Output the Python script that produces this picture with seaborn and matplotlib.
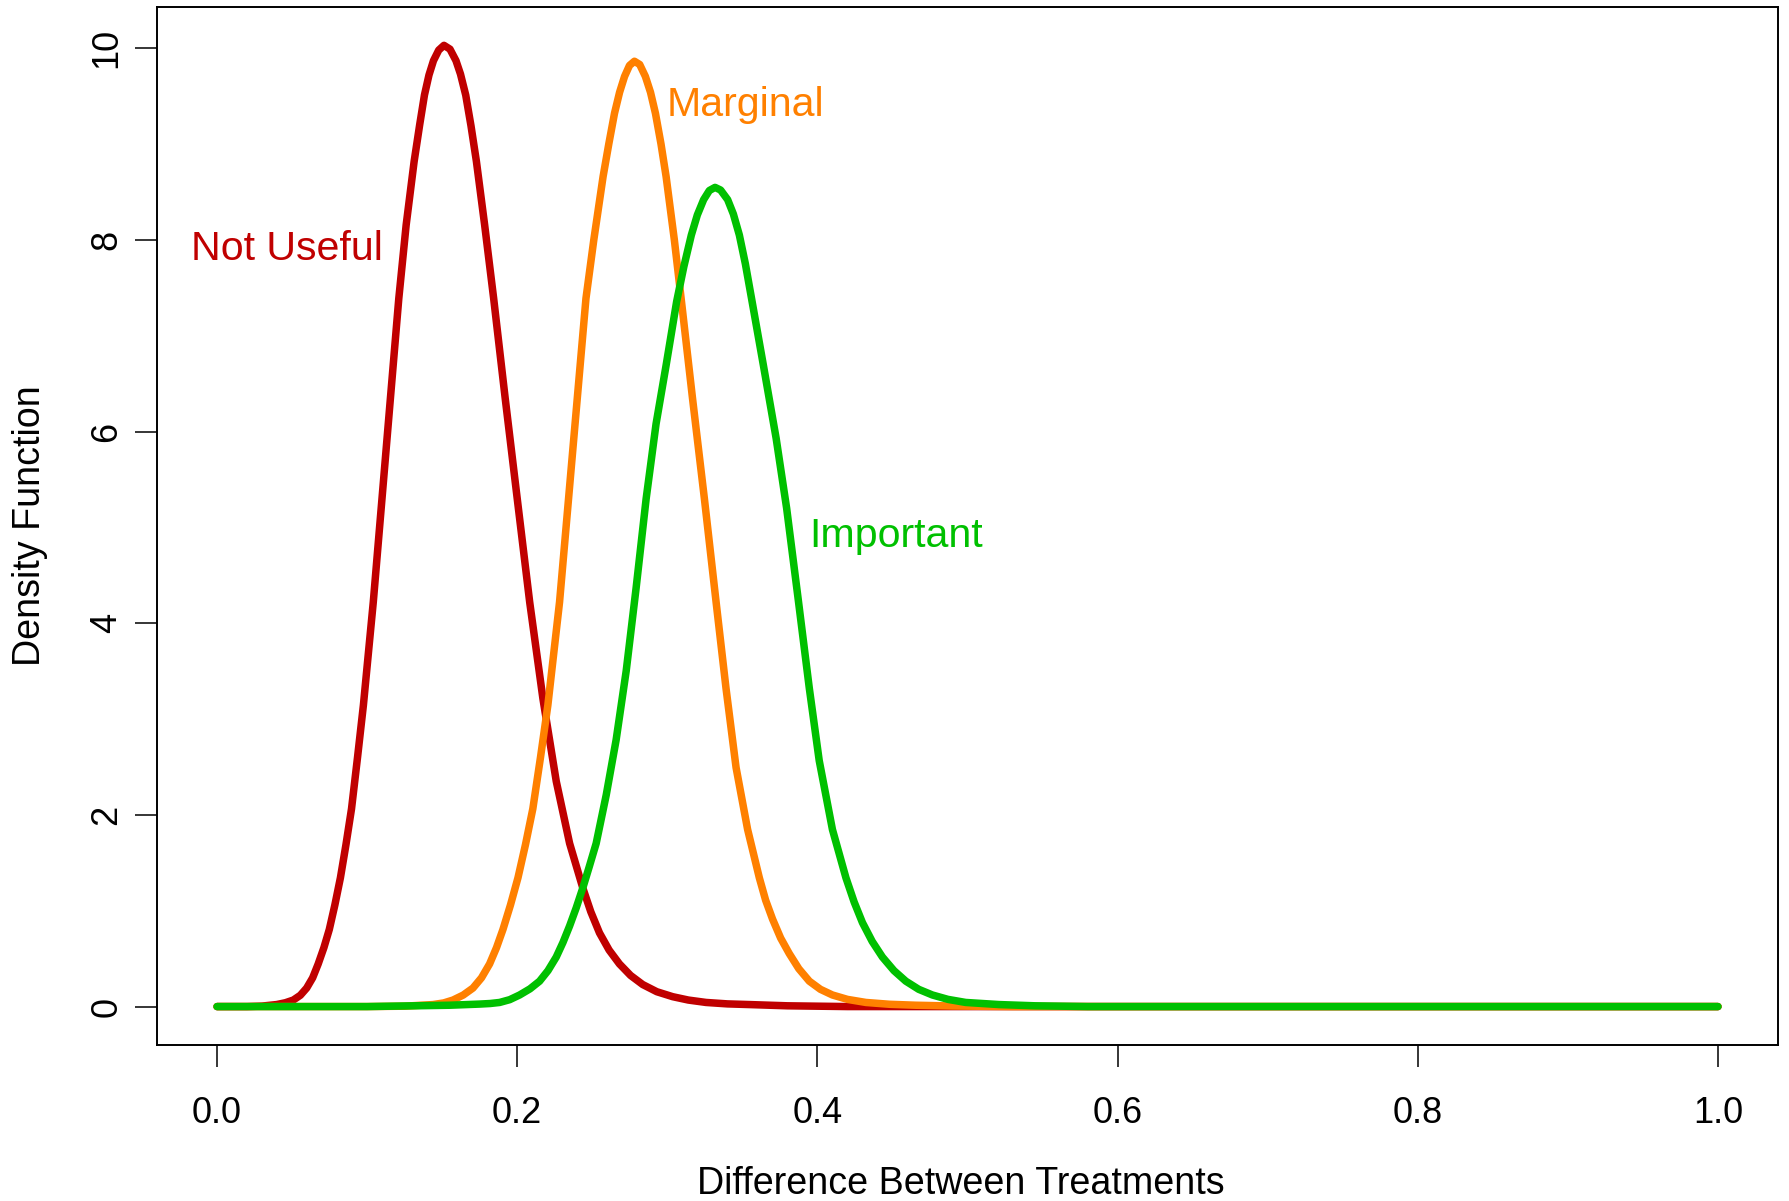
import matplotlib
matplotlib.use("Agg")
import matplotlib.pyplot as plt
import seaborn as sns

# Density curves for the difference between treatments (values read per curve)
not_useful_x = [0.0, 0.020, 0.030, 0.0397, 0.0455, 0.0508, 0.0555, 0.0597, 0.0637, 0.0674,
                0.0712, 0.0748, 0.0785, 0.0822, 0.0859, 0.0896, 0.0936, 0.0975, 0.1041,
                0.1099, 0.1155, 0.1211, 0.1260, 0.1313, 0.1350, 0.1382, 0.1412, 0.1442,
                0.1477, 0.1512, 0.1552, 0.1592, 0.1622, 0.1657, 0.1692, 0.1728, 0.1783,
                0.1843, 0.1920, 0.2000, 0.2083, 0.2171, 0.2260, 0.2349, 0.2437, 0.2490,
                0.2548, 0.2612, 0.2681, 0.2755, 0.2836, 0.2930, 0.3036, 0.3140, 0.3258,
                0.3400, 0.3546, 0.3800, 0.4200, 1.0]
not_useful_y = [0.0, 0.0, 0.005, 0.021, 0.040, 0.068, 0.118, 0.193, 0.300, 0.445,
                0.615, 0.805, 1.060, 1.344, 1.690, 2.064, 2.600, 3.143, 4.221,
                5.300, 6.345, 7.389, 8.155, 8.817, 9.200, 9.512, 9.720, 9.870,
                9.980, 10.030, 9.990, 9.870, 9.730, 9.510, 9.190, 8.820, 8.155,
                7.389, 6.345, 5.300, 4.221, 3.215, 2.351, 1.703, 1.237, 0.990,
                0.769, 0.590, 0.445, 0.325, 0.230, 0.155, 0.103, 0.068, 0.043,
                0.028, 0.021, 0.008, 0.0, 0.0]

marginal_x = [0.0, 0.10, 0.125, 0.1439, 0.1510, 0.1572, 0.1640, 0.1705, 0.1762, 0.1816,
              0.1862, 0.1905, 0.1955, 0.2005, 0.2055, 0.2104, 0.2155, 0.2204, 0.2282,
              0.2342, 0.2400, 0.2458, 0.2510, 0.2572, 0.2610, 0.2648, 0.2682, 0.2715,
              0.2748, 0.2781, 0.2816, 0.2854, 0.2888, 0.2921, 0.2958, 0.2992, 0.3047,
              0.3092, 0.3168, 0.3247, 0.3325, 0.3391, 0.3458, 0.3535, 0.3613, 0.3655,
              0.3701, 0.3755, 0.3812, 0.3876, 0.3946, 0.4020, 0.4100, 0.4200, 0.4323,
              0.4480, 0.4655, 0.4900, 0.5300, 1.0]
marginal_y = [0.0, 0.0, 0.004, 0.021, 0.038, 0.068, 0.120, 0.193, 0.300, 0.445,
              0.615, 0.805, 1.060, 1.344, 1.690, 2.064, 2.600, 3.143, 4.221,
              5.300, 6.345, 7.389, 7.998, 8.660, 9.000, 9.320, 9.540, 9.705,
              9.820, 9.864, 9.830, 9.705, 9.540, 9.320, 9.000, 8.660, 7.998,
              7.389, 6.345, 5.300, 4.221, 3.322, 2.495, 1.848, 1.344, 1.110,
              0.913, 0.715, 0.554, 0.395, 0.265, 0.180, 0.121, 0.075, 0.043,
              0.024, 0.014, 0.006, 0.0, 0.0]

important_x = [0.0, 0.10, 0.155, 0.175, 0.182, 0.1883, 0.1950, 0.2016, 0.2085, 0.2149,
               0.2205, 0.2260, 0.2305, 0.2349, 0.2393, 0.2437, 0.2480, 0.2526, 0.2593,
               0.2659, 0.2726, 0.2792, 0.2859, 0.2925, 0.2992, 0.3062, 0.3110, 0.3160,
               0.3200, 0.3242, 0.3280, 0.3318, 0.3355, 0.3402, 0.3440, 0.3480, 0.3520,
               0.3565, 0.3640, 0.3725, 0.3795, 0.3872, 0.3946, 0.4012, 0.4100, 0.4190,
               0.4245, 0.4300, 0.4365, 0.4433, 0.4510, 0.4589, 0.4675, 0.4766, 0.4870,
               0.4988, 0.5210, 0.5450, 0.5800, 1.0]
important_y = [0.0, 0.0, 0.014, 0.026, 0.032, 0.043, 0.072, 0.121, 0.185, 0.265,
               0.375, 0.517, 0.670, 0.841, 1.030, 1.238, 1.460, 1.703, 2.208,
               2.783, 3.502, 4.366, 5.300, 6.080, 6.692, 7.355, 7.720, 8.050,
               8.260, 8.420, 8.515, 8.548, 8.520, 8.420, 8.270, 8.050, 7.750,
               7.355, 6.692, 5.930, 5.200, 4.250, 3.322, 2.567, 1.848, 1.344,
               1.090, 0.876, 0.680, 0.517, 0.375, 0.265, 0.180, 0.121, 0.075,
               0.043, 0.021, 0.008, 0.0, 0.0]

curve_names = ["Not Useful", "Marginal", "Important"]
curve_colors = ["#C00000", "#FF8000", "#00C000"]
label_x = [-0.0173, 0.2994, 0.3947]
label_y = [7.79, 9.29, 4.80]

x_ticks = [0.0, 0.2, 0.4, 0.6, 0.8, 1.0]
x_tick_labels = ["0.0", "0.2", "0.4", "0.6", "0.8", "1.0"]
y_ticks = [0, 2, 4, 6, 8, 10]
y_tick_labels = ["0", "2", "4", "6", "8", "10"]

sns.set_style("ticks")
plt.rcParams["font.family"] = ["Liberation Sans", "DejaVu Sans"]

W, H = 1789, 1201
fig = plt.figure(figsize=(W / 100, H / 100), dpi=100)
left, right, top, bottom = 157, 1778, 7, 1045
ax = fig.add_axes([left / W, 1 - bottom / H, (right - left) / W, (bottom - top) / H])

series = [(not_useful_x, not_useful_y), (marginal_x, marginal_y), (important_x, important_y)]
for (xs, ys), color in zip(series, curve_colors):
    sns.lineplot(x=xs, y=ys, ax=ax, color=color, linewidth=5.4, sort=False,
                 estimator=None, solid_capstyle="round", solid_joinstyle="round")

for name, color, tx, ty in zip(curve_names, curve_colors, label_x, label_y):
    ax.text(tx, ty, name, color=color, fontsize=29.6, ha="left", va="baseline")

ax.set_xlim(-0.04, 1.04)
ax.set_ylim(-0.401, 10.43)
ax.set_xticks(x_ticks)
ax.set_xticklabels(x_tick_labels)
ax.set_yticks(y_ticks)
ax.set_yticklabels(y_tick_labels, rotation=90, va="center")

ax.tick_params(axis="both", direction="out", length=15.6, width=1.1, color="black",
               labelsize=26, labelcolor="black")
ax.tick_params(axis="x", pad=21)
ax.tick_params(axis="y", pad=8)

for spine in ax.spines.values():
    spine.set_visible(True)
    spine.set_color("black")
    spine.set_linewidth(1.4)

ax.set_xlabel("Difference Between Treatments", fontsize=27.1, color="black")
ax.set_ylabel("Density Function", fontsize=27.1, color="black")
ax.xaxis.set_label_coords(0.496, -0.1166)
ax.yaxis.set_label_coords(-0.0674, 0.5)

fig.savefig("out.png", dpi=100, facecolor="white")
